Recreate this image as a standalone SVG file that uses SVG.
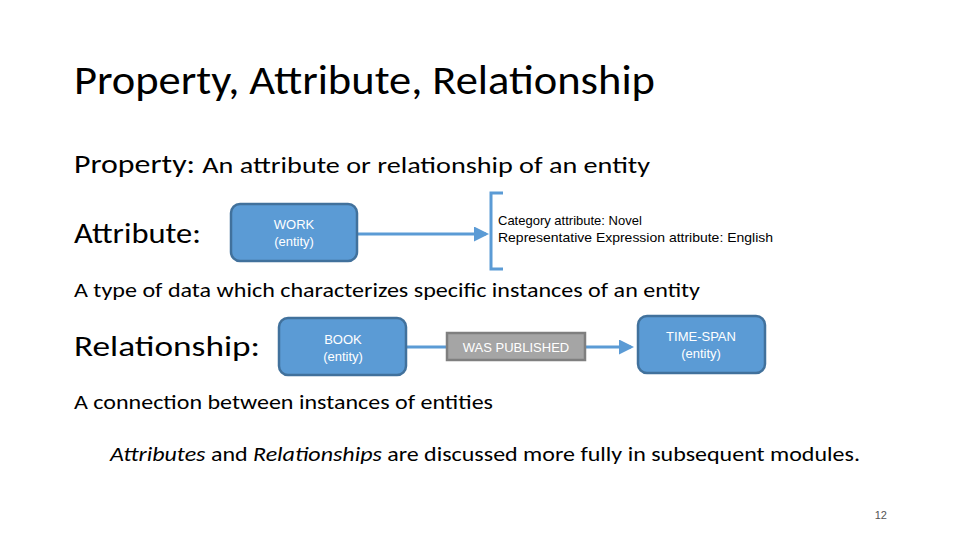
<svg xmlns="http://www.w3.org/2000/svg" width="960" height="540" viewBox="0 0 960 540">
<style>
.t{font-family:Calibri,"Carlito","Liberation Sans",sans-serif;fill:#000}
.s{font-family:"Liberation Sans",Arial,sans-serif;font-size:13px}
.box{fill:#5B9BD5;stroke:#41719C;stroke-width:2.5}
.w{fill:#fff;text-anchor:middle}
.ln{stroke:#5B9BD5;stroke-width:3;fill:none}
</style>
<defs><marker id="a" markerWidth="5" markerHeight="5" refX="4" refY="2.5" orient="auto" markerUnits="strokeWidth"><path d="M0,0L5,2.5L0,5z" fill="#5B9BD5"/></marker></defs>
<rect width="960" height="540" fill="#fff"/>
<text class="t" x="74" y="94" font-size="40" textLength="581" lengthAdjust="spacingAndGlyphs">Property, Attribute, Relationship</text>
<text class="t" x="74" y="173" font-size="26" textLength="576" lengthAdjust="spacingAndGlyphs">Property: <tspan font-size="23">An attribute or relationship of an entity</tspan></text>
<text class="t" x="74" y="243" font-size="29" textLength="127" lengthAdjust="spacingAndGlyphs">Attribute:</text>
<text class="t" x="74" y="297" font-size="21" textLength="626" lengthAdjust="spacingAndGlyphs">A type of data which characterizes specific instances of an entity</text>
<text class="t" x="74" y="356" font-size="29" textLength="186" lengthAdjust="spacingAndGlyphs">Relationship:</text>
<text class="t" x="74" y="409" font-size="21" textLength="419" lengthAdjust="spacingAndGlyphs">A connection between instances of entities</text>
<text class="t" x="110" y="461" font-size="21" textLength="750" lengthAdjust="spacingAndGlyphs"><tspan font-style="italic">Attributes</tspan> and <tspan font-style="italic">Relationships</tspan> are discussed more fully in subsequent modules.</text>
<text x="887" y="519" font-family="Liberation Sans,sans-serif" font-size="11" fill="#555" text-anchor="end">12</text>
<g id="connectors">
<line class="ln" x1="357" y1="234" x2="486" y2="234" marker-end="url(#a)"/>
<path class="ln" d="M503,193H491V269H503"/>
<line class="ln" x1="407" y1="347" x2="447" y2="347"/>
<line class="ln" x1="585" y1="347" x2="631" y2="347" marker-end="url(#a)"/>
</g>
<g id="work"><rect class="box" x="231" y="204" width="126" height="57" rx="9"/>
<text class="s w" x="294" y="229">WORK</text><text class="s w" x="294" y="246">(entity)</text></g>
<g id="attrs"><text class="s" x="498" y="225">Category attribute: Novel</text>
<text class="s" x="498" y="242" textLength="275" lengthAdjust="spacingAndGlyphs">Representative Expression attribute: English</text></g>
<g id="book"><rect class="box" x="279" y="318" width="127" height="57" rx="9"/>
<text class="s w" x="343" y="344">BOOK</text><text class="s w" x="343" y="361">(entity)</text></g>
<g id="published"><rect x="447" y="333" width="138" height="27" fill="#A5A5A5" stroke="#7F7F7F" stroke-width="2.5"/>
<text class="s w" x="516" y="352">WAS PUBLISHED</text></g>
<g id="timespan"><rect class="box" x="638" y="316" width="127" height="57" rx="9"/>
<text class="s w" x="701" y="341">TIME-SPAN</text><text class="s w" x="701" y="358">(entity)</text></g>
</svg>
